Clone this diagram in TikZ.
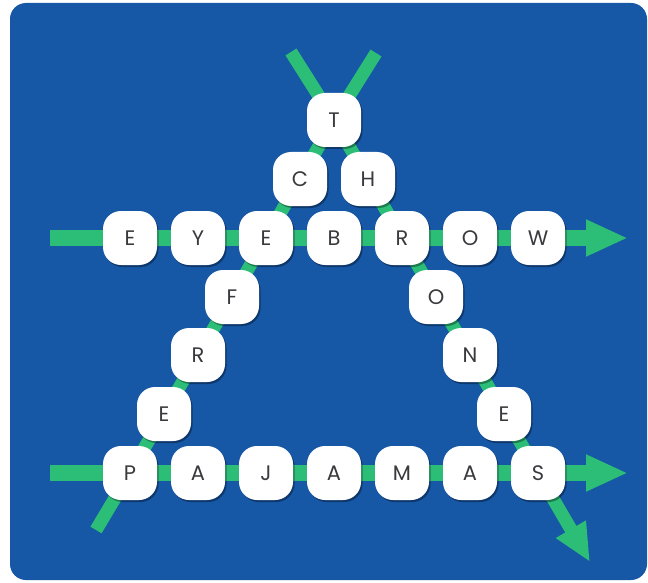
\documentclass[tikz,border=0pt]{standalone}
\usepackage{fontspec}
\setmainfont{Poppins}
\usetikzlibrary{arrows.meta,shadows}
\pgfdeclarelayer{bglayer}
\pgfdeclarelayer{linelayer}
\pgfsetlayers{bglayer,linelayer,main}
\definecolor{bgblue}{RGB}{22,87,166}
\definecolor{lgreen}{RGB}{44,189,118}
\definecolor{lettergray}{RGB}{58,58,62}
\begin{document}
\begin{tikzpicture}[x=1pt,y=-1pt,
  tile/.style={draw=none, fill=white, rounded corners=18pt, minimum width=54pt, minimum height=54pt,
    inner sep=0pt, text=lettergray, font=\fontsize{21}{21}\selectfont, text height=14.8pt, text depth=0pt,
    drop shadow={shadow xshift=1.5pt, shadow yshift=-2pt, opacity=0.35, fill=black}},
  hline/.style={draw=lgreen, line width=16pt, -{Triangle[width=34pt,length=42pt]}},
  dline/.style={draw=lgreen, line width=13pt, line join=round},
  darrow/.style={dline, -{Triangle[width=32pt,length=38pt]}}
]
\useasboundingbox (0,0) rectangle (648,583);
\begin{pgfonlayer}{bglayer}
\fill[white] (0,0) rectangle (648,583);
\fill[bgblue, rounded corners=16pt] (10,3) rectangle (647,580);
\end{pgfonlayer}

% free ends of the connectors
\coordinate (h1s) at (50,238);
\coordinate (h1e) at (628,238);
\coordinate (h2s) at (50,473);
\coordinate (h2e) at (628,473);
\coordinate (d1s) at (96,530);
\coordinate (d1e) at (376,53);
\coordinate (d2s) at (291,52);
\coordinate (d2e) at (590,562);

% tiles: top
\node[tile] (T) at (334,120) {T};
\node[tile] (C) at (300,179) {C};
\node[tile] (H) at (368,179) {H};
% EYEBROW
\node[tile] (r1a) at (130,238) {E};
\node[tile] (r1b) at (198,238) {Y};
\node[tile] (r1c) at (266,238) {E};
\node[tile] (r1d) at (334,238) {B};
\node[tile] (r1e) at (402,238) {R};
\node[tile] (r1f) at (470,238) {O};
\node[tile] (r1g) at (538,238) {W};
% left diagonal
\node[tile] (F)  at (232,297) {F};
\node[tile] (Rl) at (198,355) {R};
\node[tile] (El) at (164,414) {E};
% right diagonal
\node[tile] (Or) at (436,297) {O};
\node[tile] (Nr) at (470,355) {N};
\node[tile] (Er) at (504,414) {E};
% PAJAMAS
\node[tile] (r2a) at (130,473) {P};
\node[tile] (r2b) at (198,473) {A};
\node[tile] (r2c) at (266,473) {J};
\node[tile] (r2d) at (334,473) {A};
\node[tile] (r2e) at (402,473) {M};
\node[tile] (r2f) at (470,473) {A};
\node[tile] (r2g) at (538,473) {S};

% connectors behind the tiles
\begin{pgfonlayer}{linelayer}
\draw[hline] (h1s) -- (r1a.center) -- (r1g.center) -- (h1e);
\draw[hline] (h2s) -- (r2a.center) -- (r2g.center) -- (h2e);
\draw[dline] (d1s) -- (r2a.center) -- (El.center) -- (Rl.center) -- (F.center) -- (r1c.center) -- (C.center) -- (T.center) -- (d1e);
\draw[darrow] (d2s) -- (T.center) -- (H.center) -- (r1e.center) -- (Or.center) -- (Nr.center) -- (Er.center) -- (r2g.center) -- (d2e);
\end{pgfonlayer}
\end{tikzpicture}
\end{document}
